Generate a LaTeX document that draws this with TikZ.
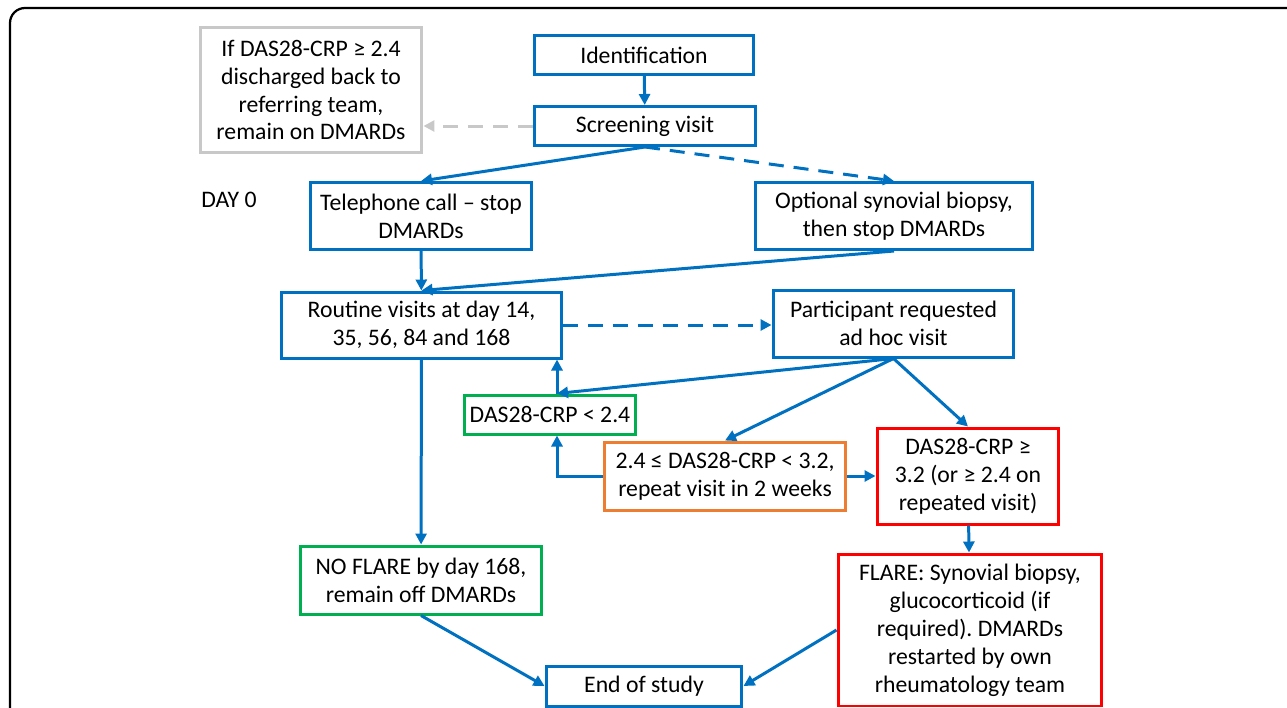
\documentclass[tikz,border=0pt]{standalone}
\usepackage{fontspec}
\setmainfont{Carlito}
\usetikzlibrary{arrows.meta, positioning}

\definecolor{flowblue}{RGB}{0,112,192}
\definecolor{flowgreen}{RGB}{0,176,80}
\definecolor{floworange}{RGB}{237,125,49}
\definecolor{flowred}{RGB}{255,0,0}
\definecolor{flowgray}{RGB}{200,200,200}

\begin{document}
\frenchspacing
\begin{tikzpicture}[x=0.02cm, y=-0.02cm]
    \tikzset{
      >={Triangle[length=0.22cm, width=0.22cm]}, % small solid arrow heads
      every node/.style={font=\fontsize{13.5}{15.9}\selectfont, align=center, inner sep=0pt},
      box/.style={draw=flowblue, line width=0.06cm, fill=white}, % default step of the study
      okbox/.style={box, draw=flowgreen}, % no flare
      warnbox/.style={box, draw=floworange}, % borderline activity
      flarebox/.style={box, draw=flowred}, % flare
      outbox/.style={box, draw=flowgray}, % leaves the study
      flow/.style={->, draw=flowblue, line width=0.06cm},
      maybe/.style={flow, dash pattern=on 0.3cm off 0.2cm}, % optional paths
    }

    \useasboundingbox (0,0) rectangle (1287,707);
    \draw[line width=0.045cm, rounded corners=0.3cm] (10,720) -- (10,8) -- (1300,8);

    % top row
    \node[box, minimum width=4.4cm, minimum height=0.78cm] (ident) at (644,55) {Identification};
    \node[box, minimum width=4.44cm, minimum height=0.78cm] (screen) at (645,126) {Screening visit};
    \node[outbox, minimum width=4.44cm, minimum height=2.5cm] (discharge) at (311,90)
      {If DAS28-CRP ≥ 2.4\\discharged back to\\referring team,\\remain on DMARDs};

    % day 0
    \node (day0) at (229,200) {DAY 0};
    \node[box, minimum width=4.44cm, minimum height=1.34cm] (tel) at (421,216)
      {Telephone call – stop\\DMARDs};
    \node[box, minimum width=5.56cm, minimum height=1.34cm] (opt) at (894,216)
      {Optional synovial biopsy,\\then stop DMARDs};

    % follow up
    \node[box, minimum width=5.6cm, minimum height=1.32cm] (routine) at (421.5,325)
      {Routine visits at day 14,\\35, 56, 84 and 168};
    \node[box, minimum width=4.82cm, minimum height=1.34cm] (adhoc) at (893.5,323.5)
      {Participant requested\\ad hoc visit};
    \node[okbox, minimum width=3.44cm, minimum height=0.78cm] (low) at (550,414.5)
      {DAS28-CRP < 2.4};
    \node[warnbox, minimum width=4.84cm, minimum height=1.36cm] (mid) at (725,476)
      {2.4 ≤ DAS28-CRP < 3.2,\\repeat visit in 2 weeks};
    \node[flarebox, minimum width=3.64cm, minimum height=1.92cm] (high) at (968,476)
      {DAS28-CRP ≥\\3.2 (or ≥ 2.4 on\\repeated visit)};

    % outcomes
    \node[okbox, minimum width=4.84cm, minimum height=1.36cm] (noflare) at (421,580)
      {NO FLARE by day 168,\\remain off DMARDs};
    \node[flarebox, minimum width=5.28cm, minimum height=3.04cm] (flare) at (970,630)
      {FLARE: Synovial biopsy,\\glucocorticoid (if\\required). DMARDs\\restarted by own\\rheumatology team};
    \node[box, minimum width=3.92cm, minimum height=0.8cm] (endstudy) at (644,686) {End of study};

    \draw[flow] (ident) -- (screen);
    \draw[maybe, draw=flowgray] (screen.west) -- (discharge.east |- screen.west);
    \draw[flow] (screen.south) -- (tel.north);
    \draw[maybe] (screen.south) -- (opt.north);
    \draw[flow] (tel) -- (routine);
    \draw[flow] (opt.south) -- (routine.north);
    \draw[maybe] (routine.east) -- (adhoc.west |- routine.east);
    \draw[flow] (adhoc.south) -- ([xshift=0.14cm]low.north);
    \draw[flow] (adhoc.south) -- (mid.north);
    \draw[flow] (adhoc.south) -- (high.north);
    \draw[flow] ([xshift=0.14cm]low.north) -- ([xshift=0.14cm]low.north |- routine.south);
    \draw[flow] (mid.west) -| ([xshift=0.14cm]low.south);
    \draw[flow] (mid) -- (high);
    \draw[flow] (high) -- (flare);
    \draw[flow] (routine) -- (noflare);
    \draw[flow] (noflare.south) -- (endstudy.west);
    \draw[flow] (flare.west) -- (endstudy.east);
\end{tikzpicture}
\end{document}
